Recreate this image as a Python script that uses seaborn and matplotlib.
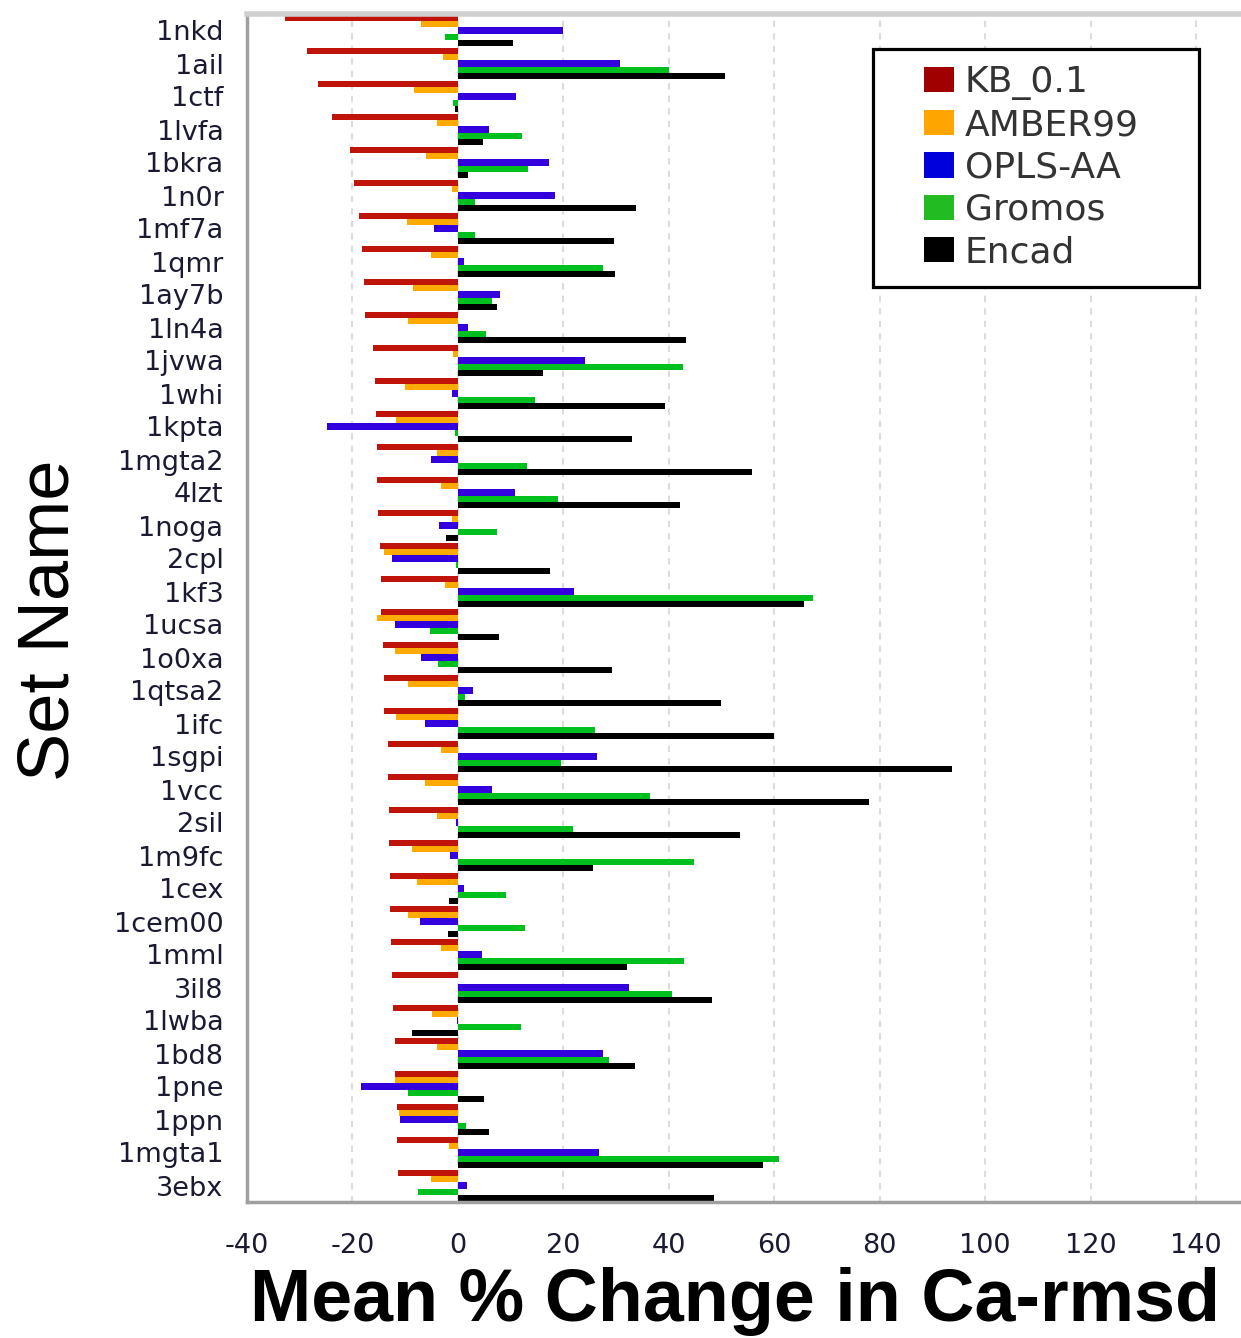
import numpy as np
import pandas as pd
import matplotlib
matplotlib.use("Agg")
import matplotlib.pyplot as plt
from matplotlib.patches import Rectangle
import seaborn as sns

sets = ["1nkd", "1ail", "1ctf", "1lvfa", "1bkra", "1n0r", "1mf7a", "1qmr", "1ay7b",
        "1ln4a", "1jvwa", "1whi", "1kpta", "1mgta2", "4lzt", "1noga", "2cpl", "1kf3",
        "1ucsa", "1o0xa", "1qtsa2", "1ifc", "1sgpi", "1vcc", "2sil", "1m9fc", "1cex",
        "1cem00", "1mml", "3il8", "1lwba", "1bd8", "1pne", "1ppn", "1mgta1", "3ebx"]

kb_01 = [-32.7, -28.7, -26.5, -23.9, -20.4, -19.7, -18.8, -18.1, -17.8,
         -17.7, -16.2, -15.7, -15.6, -15.4, -15.3, -15.1, -14.7, -14.5,
         -14.5, -14.2, -14.0, -14.0, -13.2, -13.2, -13.1, -13.1, -12.9,
         -12.9, -12.7, -12.5, -12.3, -11.9, -11.9, -11.6, -11.6, -11.4]
amber99 = [-7.0, -2.9, -8.3, -3.9, -6.1, -1.1, -9.7, -5.2, -8.5,
           -9.4, -0.9, -10.1, -11.8, -4.0, -3.2, -1.2, -14.0, -2.4,
           -15.4, -11.9, -9.4, -11.8, -3.3, -6.3, -3.9, -8.8, -7.7,
           -9.4, -3.3, 0.0, -5.0, -4.0, -11.9, -11.2, -1.7, -5.1]
opls_aa = [19.9, 30.8, 11.0, 5.9, 17.2, 18.4, -4.6, 1.1, 8.0,
           2.0, 24.1, -1.1, -24.8, -5.1, 10.8, -3.5, -12.5, 22.1,
           -11.9, -7.0, 2.8, -6.3, 26.3, 6.4, -0.4, -1.5, 1.1,
           -7.2, 4.6, 32.4, -0.2, 27.6, -18.4, -11.0, 26.8, 1.8]
gromos = [-2.4, 40.1, -0.9, 12.1, 13.2, 3.3, 3.3, 27.6, 6.4,
          5.3, 42.6, 14.7, -0.6, 13.1, 19.0, 7.4, -0.4, 67.3,
          -5.3, -3.7, 1.3, 25.9, 19.5, 36.5, 21.9, 44.7, 9.2,
          12.7, 42.8, 40.6, 11.9, 28.7, -9.4, 1.5, 60.9, -7.5]
encad = [10.5, 50.6, -0.5, 4.8, 2.0, 33.7, 29.6, 29.8, 7.4,
         43.2, 16.2, 39.3, 33.1, 55.8, 42.2, -2.2, 17.4, 65.7,
         7.7, 29.2, 49.8, 60.0, 93.6, 77.9, 53.5, 25.6, -1.7,
         -1.8, 32.0, 48.2, -8.8, 33.6, 5.0, 5.9, 57.9, 48.5]

series_names = ["KB_0.1", "AMBER99", "OPLS-AA", "Gromos", "Encad"]
series_values = [kb_01, amber99, opls_aa, gromos, encad]
series_colors = ["#c0140a", "#ffaa00", "#3300dd", "#00c020", "#000000"]
legend_colors = ["#a00000", "#ffa500", "#0000dd", "#22bb22", "#000000"]

x_ticks = [-40, -20, 0, 20, 40, 60, 80, 100, 120, 140]

df = pd.DataFrame({
    "Set Name": np.tile(sets, len(series_names)),
    "Change": np.concatenate(series_values),
    "Method": np.repeat(series_names, len(sets)),
})

sns.set_theme(style="white")
plt.rcParams["font.family"] = ["DejaVu Sans"]

W, H = 1241, 1338
ax_l, ax_r, ax_t, ax_b = 247, 1241, 14, 1202

fig = plt.figure(figsize=(W / 100, H / 100), dpi=100)
ax = fig.add_axes([ax_l / W, 1 - ax_b / H, (ax_r - ax_l) / W, (ax_b - ax_t) / H])


def ax_x(px):
    return (px - ax_l) / (ax_r - ax_l)


def ax_y(py):
    return (ax_b - py) / (ax_b - ax_t)


sns.barplot(data=df, y="Set Name", x="Change", hue="Method", order=sets,
            hue_order=series_names, palette=series_colors, width=0.96,
            saturation=1, orient="h", errorbar=None, ax=ax, legend=False,
            linewidth=0)

ax.set_xlim(-40, 148.5)
ax.set_ylim(len(sets) - 0.5, -0.5)
ax.set_xticks(x_ticks)
ax.set_xticklabels([str(t) for t in x_ticks], fontsize=19.5, color="#1a1a33")
ax.tick_params(axis="x", length=12, width=1.5, color="#e0e0e0", pad=10,
               direction="out")
ax.tick_params(axis="y", length=0, pad=17, labelsize=19.5, labelcolor="#1a1a33")
ax.xaxis.grid(True, linestyle=(0, (3, 3)), color="#dcdcdc", linewidth=1.5)
ax.set_axisbelow(True)

for side in ["left", "bottom"]:
    ax.spines[side].set_color("#a0a0a0")
    ax.spines[side].set_linewidth(2.5)
ax.spines["top"].set_color("#d0d0d0")
ax.spines["top"].set_linewidth(4)
ax.spines["right"].set_visible(False)

ax.set_xlabel("Mean % Change in Ca-rmsd", fontsize=53, fontweight="bold",
              family=["Liberation Sans"], color="black")
ax.xaxis.set_label_coords(ax_x(735), ax_y(1302))
ax.xaxis.label.set_va("center")

ax.set_ylabel("Set Name", fontsize=52, family=["Liberation Sans"], color="black")
ax.yaxis.set_label_coords(ax_x(50), ax_y(620))
ax.yaxis.label.set_va("center")

# legend frame drawn as its own box, entries placed inside it
ax.add_patch(Rectangle((ax_x(873), ax_y(287)), ax_x(1199) - ax_x(873),
                       ax_y(49) - ax_y(287), transform=ax.transAxes,
                       facecolor="white", edgecolor="black", linewidth=2.3,
                       zorder=5, clip_on=False))
handles = [plt.Rectangle((0, 0), 1, 1, facecolor=c, edgecolor="none") for c in legend_colors]
leg = ax.legend(handles, series_names, loc="upper left",
                bbox_to_anchor=(ax_x(924), ax_y(65)), borderaxespad=0,
                borderpad=0, fontsize=26, frameon=False,
                handlelength=0.83, handleheight=0.7, handletextpad=0.3,
                labelspacing=0.23)
leg.set_zorder(6)
for t in leg.get_texts():
    t.set_color("#333333")

fig.savefig("out.png", dpi=100)
